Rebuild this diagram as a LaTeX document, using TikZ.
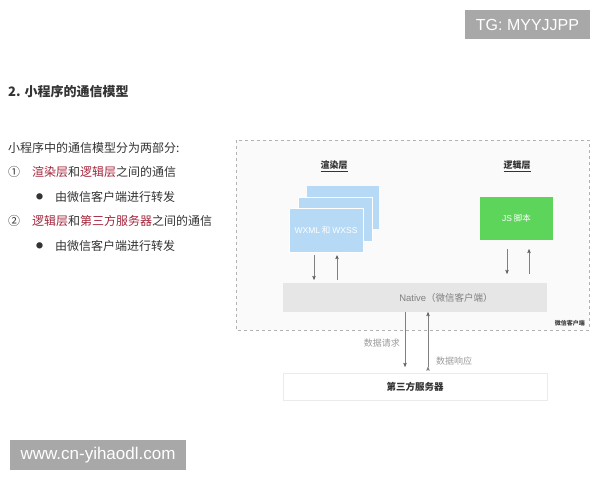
\documentclass[tikz,border=0pt]{standalone}
\usepackage{fontspec}
\setmainfont{Noto Sans CJK SC}
\newfontfamily\latinfont{Liberation Sans}
\usetikzlibrary{arrows,positioning}

\definecolor{hiRed}{HTML}{A3243B}
\definecolor{bodyText}{HTML}{333333}
\definecolor{layerBlue}{HTML}{B6D9F6}
\definecolor{jsGreen}{HTML}{5DD55B}
\definecolor{barGray}{HTML}{E6E6E6}
\definecolor{tagGray}{HTML}{A8A8A8}
\definecolor{noteGray}{HTML}{9A9A9A}

\tikzset{
  tag/.style={fill=tagGray,text=white,inner sep=0pt,font=\latinfont},
  line/.style={anchor=west,text=bodyText,inner sep=0pt,font=\fontsize{12}{14}\selectfont},
  page/.style={rectangle,inner sep=0pt,fill=layerBlue,minimum width=74pt,minimum height=44pt},
  flow/.style={draw=gray,line width=0.5pt,->},
  note/.style={text=noteGray,inner sep=0pt,font=\fontsize{9}{10}\selectfont}
}

\begin{document}
\begin{tikzpicture}[x=1pt,y=-1pt,>=stealth']
  \useasboundingbox (0,0) rectangle (600,480);

  % watermarks
  \node[tag,minimum width=125pt,minimum height=29pt,font=\latinfont\fontsize{16}{18}\selectfont]
       (tg) at (527.5,24.5) {TG: MYYJJPP};
  \node[tag,minimum width=176pt,minimum height=30pt,font=\latinfont\fontsize{17}{19}\selectfont]
       (site) at (98,455) {www.cn-yihaodl.com};

  % left column text
  \node[anchor=west,inner sep=0pt,text=bodyText,font=\fontsize{13}{15}\selectfont\bfseries]
       (title) at (8,92) {2. 小程序的通信模型};
  \node[line] (intro) at (8,148) {小程序中的通信模型分为两部分:};
  \node[line] (num1) at (8,172) {①};
  \node[line] (item1) at (32,172) {\textcolor{hiRed}{渲染层}和\textcolor{hiRed}{逻辑层}之间的通信};
  \node[line,font=\fontsize{7}{8}\selectfont] (dot1) at (36,197) {●};
  \node[line] (sub1) at (55,197) {由微信客户端进行转发};
  \node[line] (num2) at (8,221) {②};
  \node[line] (item2) at (32,221) {\textcolor{hiRed}{逻辑层}和\textcolor{hiRed}{第三方服务器}之间的通信};
  \node[line,font=\fontsize{7}{8}\selectfont] (dot2) at (36,246) {●};
  \node[line] (sub2) at (55,246) {由微信客户端进行转发};

  % client frame
  \draw[gray!60,dashed,line width=0.4pt,fill=black!2] (236,140) rectangle (589,330);
  \node[anchor=south east,inner sep=0pt,text=black!75,font=\fontsize{6}{7}\selectfont\bfseries]
       (client) at (585,326) {微信客户端};

  \node[inner sep=0pt,text=bodyText,font=\fontsize{9}{11}\selectfont\bfseries]
       (render) at (334,166) {\underline{渲染层}};
  \node[inner sep=0pt,text=bodyText,font=\fontsize{9}{11}\selectfont\bfseries]
       (logic) at (517,166) {\underline{逻辑层}};

  % stacked pages
  \node[page,minimum width=72pt,minimum height=43pt] (back) at (343,207.5) {};
  \node[page,draw=white,line width=0.6pt] (mid) at (335,219) {};
  \node[page,draw=white,line width=0.6pt,text=white,font=\fontsize{8.5}{10}\selectfont]
       (front) at (326,230) {{\latinfont WXML} 和 {\latinfont WXSS}};

  \node[rectangle,fill=jsGreen,minimum width=73pt,minimum height=43pt,inner sep=0pt,
        text=white,font=\fontsize{8.5}{10}\selectfont] (js) at (516.5,218.5) {{\latinfont JS} 脚本};

  \node[rectangle,fill=barGray,minimum width=264pt,minimum height=29pt,inner sep=0pt] (native) at (415,297.5) {};
  \node[inner sep=0pt,text=gray,font=\fontsize{9.5}{11}\selectfont] (nativeText) at (446,298)
       {{\latinfont Native}（微信客户端）};

  % third party server
  \node[rectangle,fill=white,draw=black!8,minimum width=264pt,minimum height=27pt,inner sep=0pt,
        text=bodyText,font=\fontsize{9.5}{11}\selectfont\bfseries] (server) at (415,386.5) {第三方服务器};

  % arrows
  \path[flow]
    ([yshift=-3pt]front.south -| 314,0) edge ([yshift=3pt]native.north -| 314,0)
    ([yshift=3pt]native.north -| 337,0) edge ([yshift=-3pt]front.south -| 337,0)
    ([yshift=-9pt]js.south -| 507,0) edge ([yshift=9pt]native.north -| 507,0)
    ([yshift=9pt]native.north -| 529,0) edge ([yshift=-9pt]js.south -| 529,0)
    (native.south -| 405,0) edge ([yshift=6pt]server.north -| 405,0)
    ([yshift=6pt]server.north -| 428,0) edge (native.south -| 428,0);

  \node[note,anchor=east] (request) at (400,343) {数据请求};
  \node[note,anchor=west] (response) at (436,361) {数据响应};
\end{tikzpicture}
\end{document}
